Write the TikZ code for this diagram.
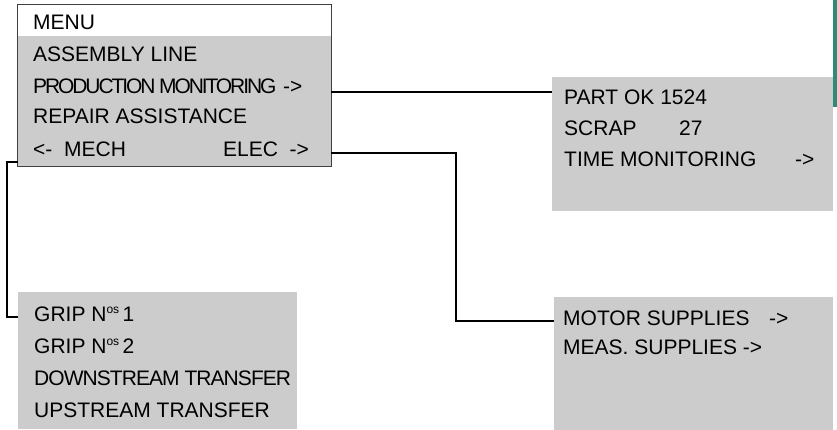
\documentclass[tikz,border=0pt]{standalone}
\usepackage{fontspec}
\setmainfont{Liberation Sans}
\usepackage{xcolor}
\usepackage{tikz}
\definecolor{panelGray}{HTML}{CCCCCC}
\definecolor{frameGray}{HTML}{404040}
\definecolor{edgeTeal}{HTML}{2E8B7A}
\newcommand{\nos}{N\raisebox{8pt}{\fontsize{12}{12}\selectfont os}}

\begin{document}
\begin{tikzpicture}[
    x=1pt, y=-1pt,
    panel/.style={rectangle, fill=panelGray, inner sep=0pt},
    row/.style={anchor=west, inner sep=0pt, text height=15pt, text depth=0pt, font=\fontsize{21}{25}\selectfont},
    link/.style={line width=1.5pt, color=black}
]
\useasboundingbox (0,0) rectangle (837,430);

\fill[edgeTeal] (833,0) rectangle (837,107);

\node[panel, minimum width=313pt, minimum height=161pt] (menu) at (174.5,85.5) {};
\fill[white] (18,5) rectangle (331,36);
\draw[frameGray, line width=0.8pt] (menu.north west) rectangle (menu.south east);
\node[panel, minimum width=281pt, minimum height=134pt] (okbox) at (692.5,144) {};
\node[panel, minimum width=279pt, minimum height=133pt] (motorbox) at (693.5,363.5) {};
\node[panel, minimum width=279pt, minimum height=137pt] (gripbox) at (157.5,360.5) {};

\node[row] (title) at (33,22.5) {MENU};
\node[row] (assembly) at (33,54) {ASSEMBLY LINE};
\node[row] (prod) at (33,86) {\makebox[250pt][l]{\addfontfeature{LetterSpace=-10}PRODUCTION MONITORING}->};
\node[row] (repair) at (33,116) {REPAIR ASSISTANCE};
\node[row] (mechelec) at (33,149) {\makebox[190pt][l]{<-\ \ MECH}ELEC\ \ ->};

\node[row] (partok) at (564,97) {PART OK 1524};
\node[row] (scrap) at (564,128) {\makebox[115pt][l]{SCRAP}27};
\node[row] (timemon) at (564,159) {\makebox[231pt][l]{TIME MONITORING}->};

\node[row] (motor) at (563,318) {\makebox[206pt][l]{MOTOR SUPPLIES}->};
\node[row] (meas) at (563,347) {MEAS. SUPPLIES ->};

\node[row] (grip1) at (34,314) {GRIP \nos\,1};
\node[row] (grip2) at (34,346) {GRIP \nos\,2};
\node[row] (down) at (34,378) {{\addfontfeature{LetterSpace=-4.5}DOWNSTREAM TRANSFER}};
\node[row] (up) at (34,410) {UPSTREAM TRANSFER};

\draw[link] (menu.east |- 0,92) -- (okbox.west |- 0,92);
\draw[link] (menu.east |- 0,153) -- ++(125,0) |- (motorbox.west |- 0,321);
\draw[link] (menu.west |- 0,162) -- ++(-11,0) |- (gripbox.west |- 0,317);

\end{tikzpicture}
\end{document}
